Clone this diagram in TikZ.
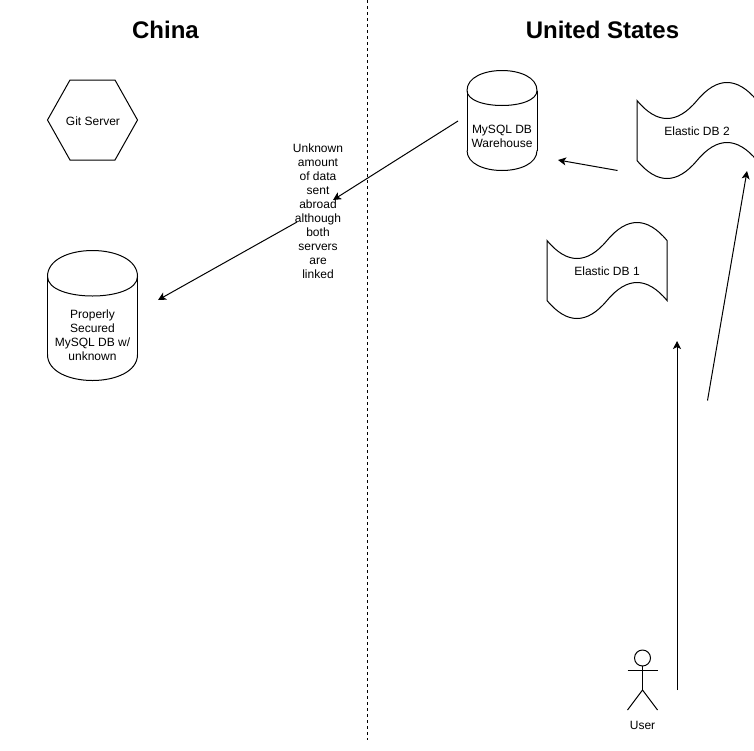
\documentclass[tikz,border=0pt]{standalone}
\usepackage{fontspec}
\setmainfont{Liberation Sans}
\usepackage{tikz}
\usetikzlibrary{arrows.meta,calc}
% drawn round a named node, corners taken from the node
\newcommand{\dbcylinder}[3]{%
    \draw[shift={(#1.north west)}] (0,#3) .. controls (0,-#3/3) and (#2,-#3/3) .. (#2,#3)
        .. controls (#2,2*#3) and (0,2*#3) .. (0,#3);
    \draw[shift={(#1.south west)}] (0,-#3) .. controls (0,#3/3) and (#2,#3/3) .. (#2,-#3);
    \draw ($(#1.north west)+(0,#3)$) -- ($(#1.south west)+(0,-#3)$);
    \draw ($(#1.north east)+(0,#3)$) -- ($(#1.south east)+(0,-#3)$);
}
\newcommand{\tapeedge}[1]{%
    \draw (#1.north west) .. controls +(20,24) and +(-20,24) .. ++(60,0)
        .. controls +(20,-24) and +(-20,-24) .. ++(60,0) -- ++(0,60)
        .. controls +(-20,-24) and +(20,-24) .. ++(-60,0)
        .. controls +(-20,24) and +(20,24) .. ++(-60,0) -- cycle;
}

\begin{document}
\begin{tikzpicture}[x=1pt,y=-1pt,line width=1pt,
    >={Stealth[length=8pt,width=8pt,inset=2pt]},
    font=\fontsize{12}{14}\selectfont]
    \tikzstyle{heading}=[font=\fontsize{24}{28}\selectfont\bfseries]
    \tikzstyle{box label}=[align=center,inner sep=0,outer sep=0]
    \tikzstyle{db box}=[box label,minimum width=70,minimum height=100]
    \tikzstyle{tape box}=[box label,minimum width=120,minimum height=60]

    \useasboundingbox (0,0) rectangle (754,750);

    \node(china)[heading] at (165.5,30) {China};
    \node(states)[heading] at (602.5,30) {United States};

    \coordinate(border top) at (367,0);
    \coordinate(border bottom) at (367,740);
    \draw[dash pattern=on 3pt off 3pt] (border top) -- (border bottom);

    \node(git)[box label,minimum width=90,minimum height=80] at (92.5,120) {};
    \draw (git.west) -- ($(git.north west)+(22.5,0)$) -- ($(git.north east)+(-22.5,0)$)
        -- (git.east) -- ($(git.south east)+(-22.5,0)$) -- ($(git.south west)+(22.5,0)$) -- cycle;
    \node(git text)[box label] at (93,121) {Git Server};

    \node(secured)[db box,minimum width=90,minimum height=130] at (92.5,315.5) {};
    \dbcylinder{secured}{90}{26}
    \node(secured text)[box label] at (92.5,335) {Properly\\Secured\\MySQL DB w/\\unknown};

    \node(warehouse)[db box] at (502,120.5) {};
    \dbcylinder{warehouse}{70}{20}
    \node(warehouse text)[box label] at (502,136.5) {MySQL DB\\Warehouse};

    \node(elastic one)[tape box] at (607,270.5) {};
    \tapeedge{elastic one}
    \node(elastic one text)[box label] at (607,271.5) {Elastic DB 1};
    \node(elastic two)[tape box] at (697,130.5) {};
    \tapeedge{elastic two}
    \node(elastic two text)[box label] at (697,131.5) {Elastic DB 2};

    \node(unknown)[box label] at (318,211) {Unknown\\amount\\of data\\sent\\abroad\\although\\both\\servers\\are\\linked};

    \coordinate(link start) at (458,121);
    \coordinate(link end) at (333,200);
    \draw[->] (link start) -- (link end);
    \coordinate(abroad start) at (297,222);
    \coordinate(abroad end) at (158,300);
    \draw[->] (abroad start) -- (abroad end);
    \coordinate(sync start) at (617.5,170.5);
    \coordinate(sync end) at (558,160);
    \draw[->] (sync start) -- (sync end);
    \coordinate(query one start) at (677,690);
    \coordinate(query one end) at (677,341);
    \draw[->] (query one start) -- (query one end);
    \coordinate(query two start) at (707.5,400.5);
    \coordinate(query two end) at (747,171);
    \draw[->] (query two start) -- (query two end);

    % stick figure
    \node(head)[circle,draw,minimum size=16,inner sep=0,outer sep=0] at (642.5,658) {};
    \coordinate(hip) at (642.5,690);
    \coordinate(left hand) at (627.5,670);
    \coordinate(right hand) at (657.5,670);
    \coordinate(left foot) at (627.5,710);
    \coordinate(right foot) at (657.5,710);
    \draw (head) -- (hip);
    \draw (left hand) -- (right hand);
    \draw (left foot) -- (hip) -- (right foot);
    \node(user)[box label] at (642.5,725.5) {User};
\end{tikzpicture}
\end{document}
